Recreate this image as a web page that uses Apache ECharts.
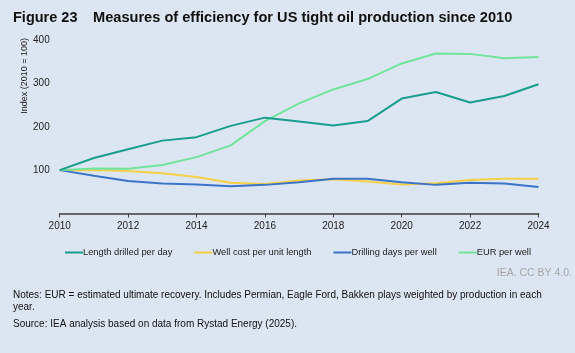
<!DOCTYPE html>
<html>
<head>
<meta charset="utf-8">
<script src="https://cdn.jsdelivr.net/npm/echarts@6/dist/echarts.min.js"></script>
<style>
html,body{margin:0;padding:0;background:#dce6f2;}
#c{width:575px;height:353px;}
</style>
</head>
<body>
<div id="c"></div>
<script>
const years = ['2010','2011','2012','2013','2014','2015','2016','2017','2018','2019','2020','2021','2022','2023','2024'];
const lengthDrilled = [100,128,148,168,176,202,221,212,203,213,265,280,256,271,298];
const wellCost = [100,100,98,93,84,71,68,76,79,74,67,70,77,80,80];
const drillingDays = [100,87,75,69,67,63,66,72,80,80,72,66,71,69,61];
const eurPerWell = [100,104,103,112,130,157,213,254,286,310,346,369,368,358,361];
const seriesNames = ['Length drilled per day','Well cost per unit length','Drilling days per well','EUR per well'];
const colors = ['#1a9c8e','#f5cf45','#3b73c8','#72e49a'];
const yTicks = [100,200,300,400];

const FONT = '"Liberation Sans", Arial, sans-serif';
const chart = echarts.init(document.getElementById('c'));
const data = [lengthDrilled, wellCost, drillingDays, eurPerWell];
chart.setOption({
  backgroundColor: '#dce6f2',
  animation: false,
  textStyle: {fontFamily: FONT},
  grid: {left: 59.7, right: 36.5, top: 40, bottom: 139.5},
  legend: {
    top: 243, left: 60, itemGap: 22, itemWidth: 18, itemHeight: 2,
    icon: 'rect',
    textStyle: {fontSize: 9.3, color: '#222', fontFamily: FONT, padding: [0,0,0,-5]},
    data: seriesNames
  },
  xAxis: {
    type: 'category', data: years, boundaryGap: false,
    axisLine: {lineStyle: {color: '#666', width: 2}},
    axisTick: {interval: 1, length: 4, lineStyle: {color: '#444', width: 1}},
    axisLabel: {interval: 1, fontSize: 10, color: '#222', margin: 8, fontFamily: FONT},
    splitLine: {show: false}
  },
  yAxis: {
    type: 'value', min: 0, max: 400, interval: 100,
    axisLine: {show: false}, axisTick: {show: false}, splitLine: {show: false},
    axisLabel: {fontSize: 10, color: '#222', margin: 10, fontFamily: FONT,
      formatter: v => yTicks.includes(v) ? String(v) : ''}
  },
  series: seriesNames.map((n,i) => ({
    name: n, type: 'line', data: data[i], showSymbol: false, symbol: 'none',
    lineStyle: {width: 2, color: colors[i]}, itemStyle: {color: colors[i]}, z: i === 0 ? 5 : 3
  })),
  graphic: [
    {type: 'text', x: 13, y: 18, style: {text: 'Figure 23', font: 'bold 14.5px ' + FONT, fill: '#111', verticalAlign: 'middle'}},
    {type: 'text', x: 93, y: 18, style: {text: 'Measures of efficiency for US tight oil production since 2010', font: 'bold 14.6px ' + FONT, fill: '#111', verticalAlign: 'middle'}},
    {type: 'text', x: 25, y: 38, rotation: Math.PI/2, style: {text: 'Index (2010 = 100)', font: '9px ' + FONT, fill: '#222', align: 'right', verticalAlign: 'middle'}},
    {type: 'text', right: 3, top: 268, style: {text: 'IEA. CC BY 4.0.', font: '10.5px ' + FONT, fill: '#a6a6a6'}},
    {type: 'text', left: 13, top: 290, style: {text: 'Notes: EUR = estimated ultimate recovery. Includes Permian, Eagle Ford, Bakken plays weighted by production in each', font: '10px ' + FONT, fill: '#111'}},
    {type: 'text', left: 13, top: 302.5, style: {text: 'year.', font: '10px ' + FONT, fill: '#111'}},
    {type: 'text', left: 13, top: 319, style: {text: 'Source: IEA analysis based on data from Rystad Energy (2025).', font: '10px ' + FONT, fill: '#111'}}
  ]
});
</script>
</body>
</html>
